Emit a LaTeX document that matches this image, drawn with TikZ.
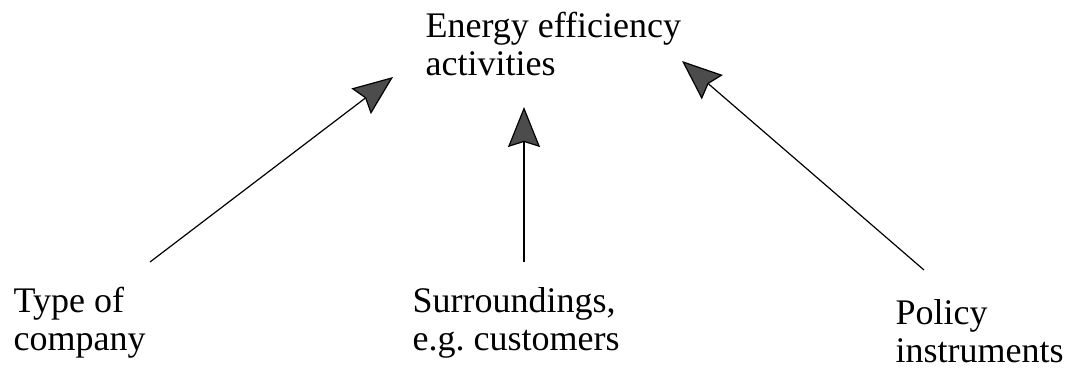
\documentclass[tikz,border=0pt]{standalone}
\usepackage{fontspec}
\setmainfont{Liberation Serif}
\usetikzlibrary{arrows.meta}

\begin{document}
\begin{tikzpicture}[x=1pt, y=-1pt, line width=1.2pt,
	>={Stealth[length=40pt, width=32pt, inset=5pt, fill=black!70]},
	factor/.style={anchor=base west, inner sep=0pt, align=left,
		font=\fontsize{36}{38}\selectfont}]
	\useasboundingbox (0,0) rectangle (1076,368);

	% Nodes {goal, type, surr, policy}, placed by their last baseline
	\node [factor] (goal)   at (425,75)  {Energy efficiency\\activities};
	\node [factor] (type)   at (13,350)  {Type of\\company};
	\node [factor] (surr)   at (412,350) {Surroundings,\\e.g.\ customers};
	\node [factor] (policy) at (895,362) {Policy\\instruments};

	% Tails and tips of the arrows
	\coordinate (typeend)   at (150,262);
	\coordinate (surrend)   at (524,262);
	\coordinate (policyend) at (924,270);
	\coordinate (typetip)   at (393,77);
	\coordinate (surrtip)   at (524,107);
	\coordinate (policytip) at (682,61);

	% Arrows towards the activities
	\draw [->] (typeend)   -- (typetip);
	\draw [->] (surrend)   -- (surrtip);
	\draw [->] (policyend) -- (policytip);
\end{tikzpicture}
\end{document}
